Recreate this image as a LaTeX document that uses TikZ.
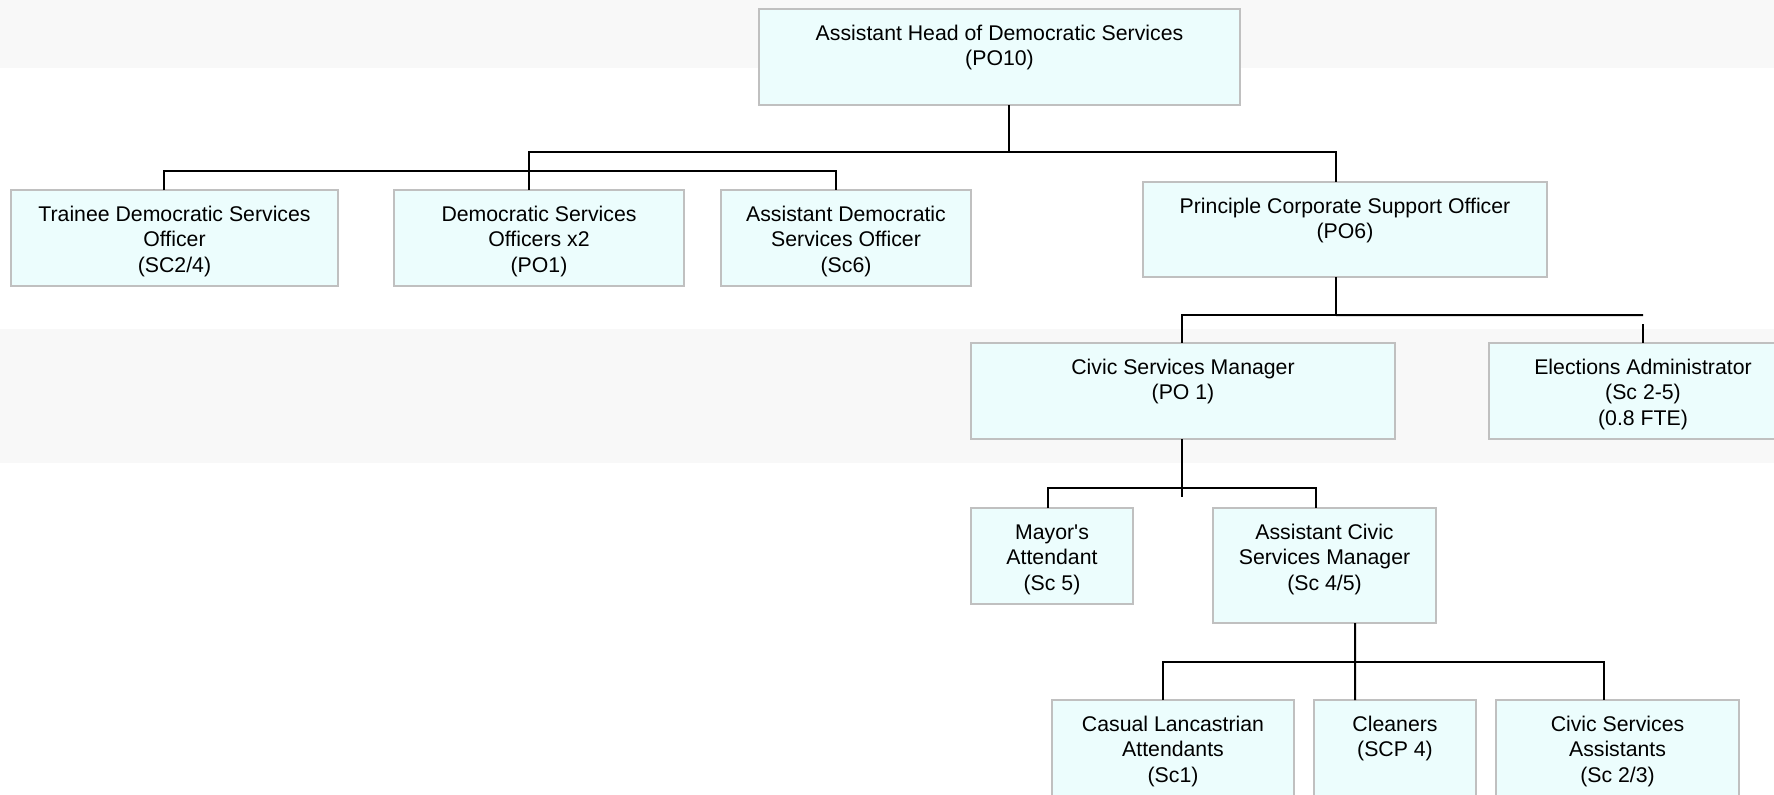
\documentclass[tikz,border=0pt]{standalone}
\usepackage{fontspec}
\setmainfont{Liberation Sans}
\usepackage{tikz}
\usetikzlibrary{calc}
\definecolor{postfill}{RGB}{236,253,253}
\definecolor{postline}{RGB}{192,192,192}
\definecolor{bandfill}{RGB}{248,248,248}
\newlength{\unitpx}
\setlength{\unitpx}{0.45pt}
% box text: width, height, lines (top aligned)
\newcommand{\posttext}[3]{\parbox[c][#2\unitpx][t]{#1\unitpx}{\centering\rule{0pt}{14pt}#3}}
\tikzset{
    post-box/.style = {draw=postline, fill=postfill, line width=0.8pt, rectangle, inner sep=0pt, outer sep=0pt, anchor=north west, font=\fontsize{9.57}{11.5}\selectfont},
    link-line/.style = {draw=black, line width=0.9pt},
    band/.style = {fill=bandfill},
}

\begin{document}
\begin{tikzpicture}[x=0.45pt, y=-0.45pt]
\useasboundingbox (0,0) rectangle (1774,795);
\clip (0,0) rectangle (1774,795);
\fill[band] (0,0) rectangle (1774,68);
\fill[band] (0,329) rectangle (1774,463);

% top level
\node[post-box] (head) at (759,9) {\posttext{481}{96}{Assistant Head of Democratic Services\\(PO10)}};

% second level
\node[post-box] (trainee) at (11,190) {\posttext{327}{96}{Trainee Democratic Services\\Officer\\(SC2/4)}};
\node[post-box] (dso) at (394,190) {\posttext{290}{96}{Democratic Services\\Officers x2\\(PO1)}};
\node[post-box] (adso) at (721,190) {\posttext{250}{96}{Assistant Democratic\\Services Officer\\(Sc6)}};
\node[post-box] (pcso) at (1143,182) {\posttext{404}{95}{Principle Corporate Support Officer\\(PO6)}};

% third level
\node[post-box] (csm) at (971,343) {\posttext{424}{96}{Civic Services Manager\\(PO 1)}};
\node[post-box] (elect) at (1489,343) {\posttext{308}{96}{Elections Administrator\\(Sc 2-5)\\(0.8 FTE)}};

% fourth level
\node[post-box] (mayor) at (971,508) {\posttext{162}{96}{Mayor\textquotesingle s\\Attendant\\(Sc 5)}};
\node[post-box] (acsm) at (1213,508) {\posttext{223}{115}{Assistant Civic\\Services Manager\\(Sc 4/5)}};

% fifth level
\node[post-box] (casual) at (1052,700) {\posttext{242}{115}{Casual Lancastrian\\Attendants\\(Sc1)}};
\node[post-box] (cleaners) at (1314,700) {\posttext{162}{115}{Cleaners\\(SCP 4)}};
\node[post-box] (csa) at (1496,700) {\posttext{243}{115}{Civic Services\\Assistants\\(Sc 2/3)}};

% connectors
\draw[link-line] ($(head.south)+(9.5,0)$) -- ++(0,47) -| ($(pcso.north)+(-9,0)$);
\draw[link-line] ($(head.south)+(9.5,47)$) -| ($(dso.north)+(-10,0)$);
\draw[link-line] ($(trainee.north)+(-10.5,0)$) |- ($(adso.north)+(-10,-19)$) -- ($(adso.north)+(-10,0)$);

\draw[link-line] ($(pcso.south)+(-9,0)$) -- ++(0,38) -| ($(csm.north)+(-1,0)$);
\draw[link-line] ($(pcso.south)+(-9,38)$) -- ($(elect.north)+(0,-28)$);
\draw[link-line] ($(elect.north)+(0,-19)$) -- (elect.north);

\draw[link-line] ($(csm.south)+(-1,0)$) -- ++(0,58);
\draw[link-line] ($(mayor.north)+(-4,0)$) |- ($(acsm.north)+(-8.5,-20)$) -- ($(acsm.north)+(-8.5,0)$);

\draw[link-line] ($(acsm.south)+(30.5,0)$) -- ($(cleaners.north)+(-40,0)$);
\draw[link-line] ($(casual.north)+(-10,0)$) |- ($(csa.north)+(-13.5,-38)$) -- ($(csa.north)+(-13.5,0)$);
\end{tikzpicture}
\end{document}
